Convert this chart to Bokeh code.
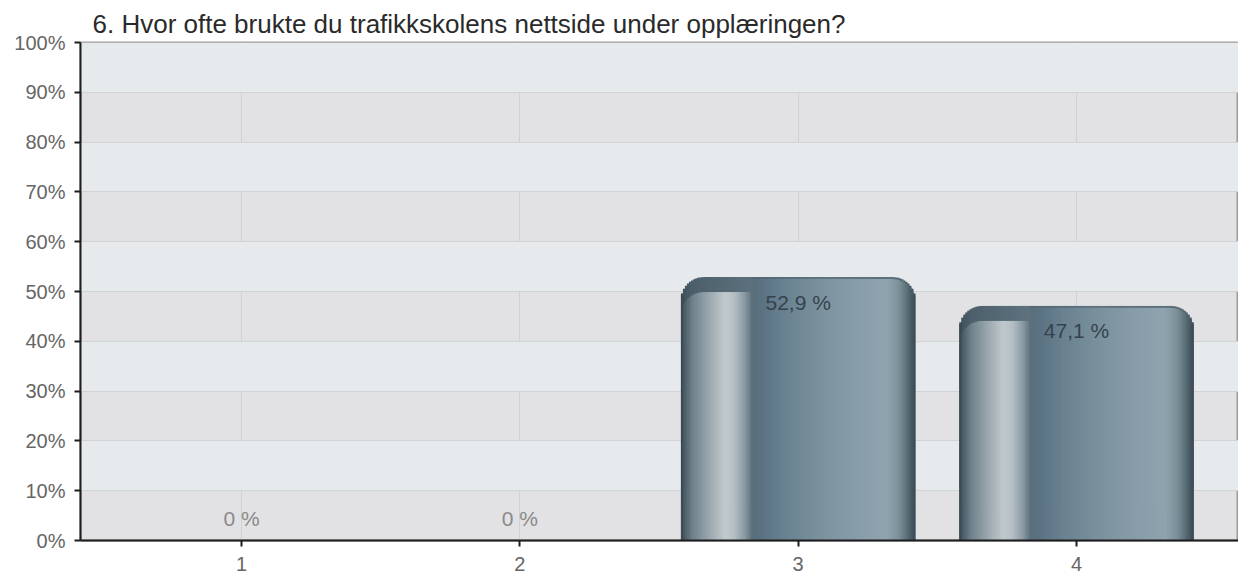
import math
from bokeh.plotting import figure
from bokeh.models import ColumnDataSource, FixedTicker, PrintfTickFormatter, Range1d
from bokeh.core.properties import value
from bokeh.embed import file_html
from bokeh.resources import INLINE

# ---------------- data ----------------
title_text = "6. Hvor ofte brukte du trafikkskolens nettside under opplæringen?"
categories = [1, 2, 3, 4]
percent = [0.0, 0.0, 52.9, 47.1]
y_ticks = [0, 10, 20, 30, 40, 50, 60, 70, 80, 90, 100]

# ---------------- layout constants ----------------
FIG_W, FIG_H = 1238, 576
MB_L, MB_R, MB_T, MB_B = 80, 0, 42, 36
FRAME_W = FIG_W - MB_L - MB_R
FRAME_H = FIG_H - MB_T - MB_B
X0, X1 = 0.4215, 4.582
px_per_x = FRAME_W / (X1 - X0)
px_per_y = FRAME_H / 100.0

FONT = "Liberation Sans"
BAR_W = 0.84
N = 117
R_PX = 23.0
CAP_PX = 15.0
RIM_PX = 2.0
HL_END = 0.30

# body gradient (left -> right)
body_stops = [
    (0.000, "#34444e"), (0.015, "#4a5c67"), (0.05, "#6f818b"), (0.12, "#9aa7ae"),
    (0.19, "#c2cace"), (0.23, "#b3bec4"), (0.275, "#8797a0"), (0.295, "#6a7d88"),
    (0.305, "#5a6f7b"), (0.34, "#5a7281"), (0.45, "#6a8291"), (0.60, "#7b929e"),
    (0.75, "#889daa"), (0.88, "#90a4af"), (0.93, "#7d919b"), (0.96, "#62767f"),
    (0.99, "#44565f"), (1.0, "#3a4a54"),
]
cap_stops = [
    (0.0, "#3e4f59"), (0.05, "#4c5f6a"), (0.30, "#5c717d"), (0.305, "#536773"),
    (0.6, "#5f7480"), (0.9, "#5d717c"), (0.97, "#4a5c66"), (1.0, "#3a4a54"),
]


def hex2rgb(h):
    h = h.lstrip("#")
    return tuple(int(h[i:i + 2], 16) for i in (0, 2, 4))


def interp(stops, t):
    for (t0, c0), (t1, c1) in zip(stops[:-1], stops[1:]):
        if t0 <= t <= t1:
            f = 0 if t1 == t0 else (t - t0) / (t1 - t0)
            a, b = hex2rgb(c0), hex2rgb(c1)
            return "#%02x%02x%02x" % tuple(int(round(a[k] + (b[k] - a[k]) * f)) for k in range(3))
    return stops[-1][1]


def corner_drop(d, r):
    if d >= r:
        return 0.0
    return r - math.sqrt(max(r * r - (r - d) ** 2, 0.0))


outer = dict(x=[], top=[], color=[])
inner = dict(x=[], top=[], color=[])
W_px = BAR_W * px_per_x
for c, v in zip(categories, percent):
    if v <= 0:
        continue
    for i in range(N):
        t = (i + 0.5) / N
        d = t * W_px
        drop = corner_drop(min(d, W_px - d), R_PX)
        xc = c - BAR_W / 2 + t * BAR_W
        outer["x"].append(xc)
        outer["top"].append(v - drop / px_per_y)
        outer["color"].append(interp(cap_stops, t))
        off = CAP_PX if (0.01 < t < HL_END) else RIM_PX
        inner["x"].append(xc)
        inner["top"].append(max(v - (off + drop) / px_per_y, 0))
        inner["color"].append(interp(body_stops, t))

labels = [("0 %" if v == 0 else ("%.1f" % v).replace(".", ",") + " %") for v in percent]
lab_src = ColumnDataSource(dict(
    x=categories,
    y=percent,
    label=labels,
    yoff=[(-22 if v == 0 else 25) for v in percent],
    color=[("#8a8a8a" if v == 0 else "#34434d") for v in percent],
))

# ---------------- figure ----------------
p = figure(width=FIG_W, height=FIG_H, output_backend="svg", toolbar_location=None,
           x_range=Range1d(X0, X1), y_range=Range1d(0, 100),
           min_border_left=MB_L, min_border_right=MB_R, min_border_top=MB_T,
           min_border_bottom=MB_B)
p.background_fill_color = "#e2e2e4"
p.border_fill_color = "white"
p.outline_line_color = "#9c9c9c"
p.outline_line_width = 2

p.title.text = title_text
p.title.text_font = FONT
p.title.text_font_size = "26px"
p.title.text_font_style = "normal"
p.title.text_color = "#2a2a2a"
p.title.align = "left"
p.title.offset = 12
p.title.standoff = 8

# grid
p.ygrid.ticker = FixedTicker(ticks=y_ticks)
p.ygrid.grid_line_color = "#d2d3d5"
p.ygrid.band_fill_color = "#e7eaed"
p.ygrid.band_fill_alpha = 1.0
p.xgrid.ticker = FixedTicker(ticks=categories)
p.xgrid.grid_line_color = "#cfd1d4"

# axes
p.yaxis.ticker = FixedTicker(ticks=y_ticks)
p.yaxis.formatter = PrintfTickFormatter(format="%d%%")
p.xaxis.ticker = FixedTicker(ticks=categories)
for ax in (p.xaxis, p.yaxis):
    ax.axis_line_color = "#1e1e1e"
    ax.axis_line_width = 2
    ax.major_tick_line_color = "#1e1e1e"
    ax.major_tick_line_width = 2
    ax.major_tick_out = 6
    ax.major_tick_in = 0
    ax.minor_tick_line_color = None
    ax.major_label_text_font = FONT
    ax.major_label_text_font_size = "20px"
    ax.major_label_text_color = "#666666"
p.yaxis.major_label_standoff = 9
p.xaxis.major_label_standoff = 10

# bars (drawn as gradient strips)
sw = BAR_W / N * 1.35
p.vbar(x="x", top="top", bottom=0, width=sw, source=ColumnDataSource(outer),
       fill_color="color", line_color=None)
p.vbar(x="x", top="top", bottom=0, width=sw, source=ColumnDataSource(inner),
       fill_color="color", line_color=None)

p.text(x="x", y="y", text="label", source=lab_src, text_color="color",
       y_offset="yoff", text_align="center", text_baseline="middle",
       text_font=value(FONT), text_font_size=value("21px"))

open("out.html", "w").write(file_html(p, INLINE))
